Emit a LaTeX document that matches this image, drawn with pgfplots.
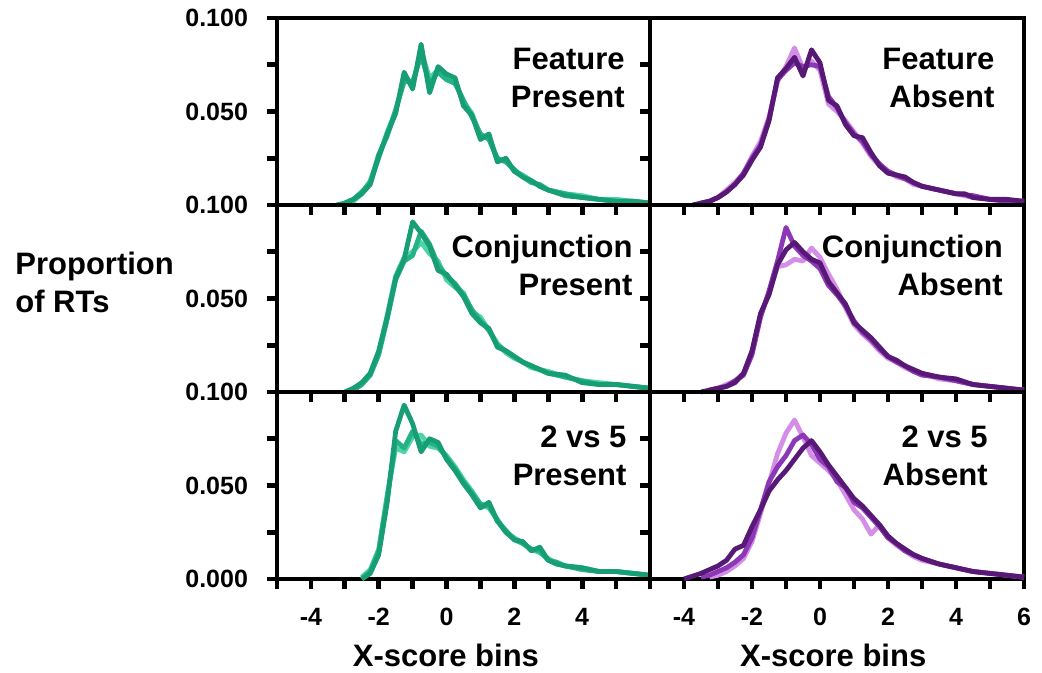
\documentclass[border=0pt]{standalone}
\usepackage{fontspec}
\setmainfont{Liberation Sans}
\usepackage{pgfplots}
\pgfplotsset{compat=1.18}

\definecolor{gdark}{RGB}{24,158,116}
\definecolor{gmid}{RGB}{36,178,134}
\definecolor{glight}{RGB}{78,212,166}
\definecolor{pdark}{RGB}{88,24,118}
\definecolor{pmid}{RGB}{140,56,182}
\definecolor{plight}{RGB}{212,142,232}

\newcommand{\titlefont}{\fontsize{15.5}{19}\selectfont\bfseries}

\tikzset{ptitle/.style={anchor=north east, align=right, font=\titlefont, inner sep=0pt}}

\pgfplotsset{
  panel/.style={
    scale only axis, width=186.5pt, height=93.5pt,
    anchor=north west,
    xmin=-5, xmax=6, ymin=0, ymax=0.1,
    axis line style={line width=2.4pt, line cap=rect},
    tick align=outside, major tick length=5pt,
    every tick/.style={black, line width=2.4pt},
    xtick pos=bottom, ytick pos=left,
    xtick={-5,-4,-3,-2,-1,0,1,2,3,4,5,6}, xticklabels={},
    ytick={0,0.025,0.05,0.075,0.1}, yticklabels={},
    tick label style={font=\fontsize{12.5}{14}\selectfont\bfseries},
    xticklabel shift=6pt,
    yticklabel shift=6pt,
    xlabel style={font=\titlefont},
    every axis plot/.append style={line width=2.4pt, line join=round, no markers},
    clip=false,
  },
}

\begin{document}
\begin{tikzpicture}
\path[use as bounding box] (0,0) rectangle (521pt,-336.5pt);

% ---- row 1 ----
\begin{axis}[panel, at={(138.5pt,-9pt)}, yticklabels={,,0.050,,0.100}]
\addplot[glight] coordinates {(-3.0,0.001) (-2.75,0.002) (-2.5,0.006) (-2.25,0.013) (-2.0,0.025) (-1.75,0.039) (-1.5,0.050) (-1.25,0.068) (-1.0,0.064) (-0.75,0.082) (-0.5,0.068) (-0.25,0.072) (0,0.069) (0.25,0.066) (0.5,0.055) (0.75,0.049) (1.0,0.037) (1.25,0.036) (1.5,0.024) (1.75,0.024) (2.0,0.018) (2.25,0.016) (2.5,0.013) (2.75,0.010) (3.0,0.008) (3.5,0.006) (4.0,0.005) (4.5,0.003) (5.0,0.003) (5.5,0.002) (6.0,0.001)};
\addplot[gmid] coordinates {(-3.0,0.001) (-2.75,0.003) (-2.5,0.007) (-2.25,0.012) (-2.0,0.027) (-1.75,0.037) (-1.5,0.051) (-1.25,0.066) (-1.0,0.066) (-0.75,0.080) (-0.5,0.065) (-0.25,0.071) (0,0.067) (0.25,0.065) (0.5,0.056) (0.75,0.047) (1.0,0.038) (1.25,0.035) (1.5,0.025) (1.75,0.023) (2.0,0.019) (2.25,0.015) (2.5,0.012) (2.75,0.011) (3.0,0.008) (3.5,0.006) (4.0,0.004) (4.5,0.003) (5.0,0.002) (5.5,0.002) (6.0,0.001)};
\addplot[gdark] coordinates {(-3.25,0.000) (-3.0,0.001) (-2.75,0.003) (-2.5,0.006) (-2.25,0.011) (-2.0,0.026) (-1.75,0.038) (-1.5,0.049) (-1.25,0.071) (-1.0,0.062) (-0.75,0.086) (-0.5,0.060) (-0.25,0.074) (0,0.070) (0.25,0.068) (0.5,0.053) (0.75,0.048) (1.0,0.035) (1.25,0.038) (1.5,0.023) (1.75,0.025) (2.0,0.018) (2.25,0.015) (2.5,0.013) (2.75,0.010) (3.0,0.008) (3.5,0.005) (4.0,0.004) (4.5,0.003) (5.0,0.002) (5.5,0.002) (6.0,0.001)};
\node[ptitle] at (rel axis cs:0.933,0.84) {Feature\\Present};
\end{axis}

\begin{axis}[panel, at={(325pt,-9pt)}, width=187pt]
\addplot[plight] coordinates {(-3.5,0.001) (-3.25,0.002) (-3.0,0.004) (-2.75,0.008) (-2.5,0.012) (-2.25,0.017) (-2.0,0.026) (-1.75,0.034) (-1.5,0.047) (-1.25,0.066) (-1.0,0.074) (-0.75,0.084) (-0.5,0.073) (-0.25,0.077) (0,0.072) (0.25,0.054) (0.5,0.050) (0.75,0.045) (1.0,0.039) (1.25,0.033) (1.5,0.026) (1.75,0.021) (2.0,0.018) (2.25,0.015) (2.5,0.014) (2.75,0.011) (3.0,0.010) (3.5,0.008) (4.0,0.006) (4.5,0.004) (5.0,0.003) (5.5,0.002) (6.0,0.002)};
\addplot[pmid] coordinates {(-3.5,0.001) (-3.25,0.002) (-3.0,0.004) (-2.75,0.007) (-2.5,0.011) (-2.25,0.017) (-2.0,0.025) (-1.75,0.032) (-1.5,0.046) (-1.25,0.067) (-1.0,0.072) (-0.75,0.076) (-0.5,0.074) (-0.25,0.075) (0,0.074) (0.25,0.058) (0.5,0.052) (0.75,0.044) (1.0,0.038) (1.25,0.034) (1.5,0.027) (1.75,0.022) (2.0,0.018) (2.25,0.016) (2.5,0.014) (2.75,0.012) (3.0,0.010) (3.5,0.008) (4.0,0.006) (4.5,0.005) (5.0,0.003) (5.5,0.002) (6.0,0.002)};
\addplot[pdark] coordinates {(-3.75,0.000) (-3.5,0.001) (-3.25,0.002) (-3.0,0.004) (-2.75,0.007) (-2.5,0.011) (-2.25,0.016) (-2.0,0.024) (-1.75,0.031) (-1.5,0.045) (-1.25,0.068) (-1.0,0.073) (-0.75,0.079) (-0.5,0.069) (-0.25,0.083) (0,0.076) (0.25,0.056) (0.5,0.053) (0.75,0.043) (1.0,0.037) (1.25,0.036) (1.5,0.028) (1.75,0.021) (2.0,0.017) (2.25,0.016) (2.5,0.015) (2.75,0.012) (3.0,0.010) (3.5,0.008) (4.0,0.006) (4.25,0.006) (4.5,0.004) (5.0,0.003) (5.5,0.003) (6.0,0.002)};
\node[ptitle] at (rel axis cs:0.922,0.84) {Feature\\Absent};
\end{axis}

% ---- row 2 ----
\begin{axis}[panel, at={(138.5pt,-102.5pt)}, yticklabels={,,0.050,,0.100}]
\addplot[glight] coordinates {(-2.75,0.001) (-2.5,0.004) (-2.25,0.010) (-2.0,0.021) (-1.75,0.041) (-1.5,0.062) (-1.25,0.072) (-1.0,0.075) (-0.75,0.080) (-0.5,0.074) (-0.25,0.070) (0,0.060) (0.25,0.056) (0.5,0.053) (0.75,0.043) (1.0,0.040) (1.25,0.033) (1.5,0.026) (1.75,0.021) (2.0,0.018) (2.25,0.016) (2.5,0.013) (2.75,0.012) (3.0,0.011) (3.5,0.008) (4.0,0.006) (4.5,0.005) (5.0,0.004) (5.5,0.003) (6.0,0.002)};
\addplot[gmid] coordinates {(-2.75,0.001) (-2.5,0.004) (-2.25,0.009) (-2.0,0.020) (-1.75,0.039) (-1.5,0.060) (-1.25,0.070) (-1.0,0.073) (-0.75,0.086) (-0.5,0.079) (-0.25,0.068) (0,0.062) (0.25,0.058) (0.5,0.052) (0.75,0.044) (1.0,0.038) (1.25,0.033) (1.5,0.025) (1.75,0.022) (2.0,0.019) (2.25,0.016) (2.5,0.014) (2.75,0.012) (3.0,0.010) (3.5,0.008) (4.0,0.006) (4.5,0.004) (5.0,0.004) (5.5,0.003) (6.0,0.002)};
\addplot[gdark] coordinates {(-3.0,0.000) (-2.75,0.002) (-2.5,0.005) (-2.25,0.010) (-2.0,0.022) (-1.75,0.040) (-1.5,0.061) (-1.25,0.071) (-1.0,0.091) (-0.75,0.085) (-0.5,0.078) (-0.25,0.065) (0,0.063) (0.25,0.057) (0.5,0.051) (0.75,0.042) (1.0,0.037) (1.25,0.034) (1.5,0.024) (1.75,0.022) (2.0,0.019) (2.25,0.016) (2.5,0.014) (2.75,0.012) (3.0,0.010) (3.5,0.009) (4.0,0.005) (4.5,0.004) (5.0,0.004) (5.5,0.003) (6.0,0.002)};
\node[ptitle] at (rel axis cs:0.954,0.84) {Conjunction\\Present};
\node[anchor=west, align=left, font=\titlefont, inner sep=0pt] at (rel axis cs:0,0.5) [xshift=-131pt, yshift=8pt] {Proportion\\of RTs};
\end{axis}

\begin{axis}[panel, at={(325pt,-102.5pt)}, width=187pt]
\addplot[plight] coordinates {(-3.25,0.001) (-3.0,0.002) (-2.75,0.004) (-2.5,0.006) (-2.25,0.010) (-2.0,0.021) (-1.75,0.041) (-1.5,0.053) (-1.25,0.067) (-1.0,0.068) (-0.75,0.071) (-0.5,0.070) (-0.25,0.077) (0,0.072) (0.25,0.063) (0.5,0.055) (0.75,0.045) (1.0,0.036) (1.25,0.031) (1.5,0.027) (1.75,0.022) (2.0,0.018) (2.25,0.016) (2.5,0.013) (2.75,0.011) (3.0,0.010) (3.5,0.007) (4.0,0.006) (4.5,0.004) (5.0,0.003) (5.5,0.002) (6.0,0.001)};
\addplot[pmid] coordinates {(-3.25,0.001) (-3.0,0.002) (-2.75,0.003) (-2.5,0.006) (-2.25,0.009) (-2.0,0.020) (-1.75,0.040) (-1.5,0.054) (-1.25,0.070) (-1.0,0.088) (-0.75,0.078) (-0.5,0.073) (-0.25,0.070) (0,0.066) (0.25,0.057) (0.5,0.052) (0.75,0.046) (1.0,0.038) (1.25,0.032) (1.5,0.028) (1.75,0.023) (2.0,0.019) (2.25,0.016) (2.5,0.014) (2.75,0.011) (3.0,0.009) (3.5,0.008) (4.0,0.006) (4.5,0.004) (5.0,0.003) (5.5,0.002) (6.0,0.001)};
\addplot[pdark] coordinates {(-3.5,0.000) (-3.25,0.001) (-3.0,0.002) (-2.75,0.003) (-2.5,0.005) (-2.25,0.010) (-2.0,0.022) (-1.75,0.042) (-1.5,0.052) (-1.25,0.068) (-1.0,0.076) (-0.75,0.080) (-0.5,0.075) (-0.25,0.071) (0,0.069) (0.25,0.059) (0.5,0.053) (0.75,0.047) (1.0,0.037) (1.25,0.033) (1.5,0.029) (1.75,0.024) (2.0,0.019) (2.25,0.017) (2.5,0.014) (2.75,0.012) (3.0,0.010) (3.5,0.008) (4.0,0.007) (4.5,0.004) (5.0,0.003) (5.5,0.002) (6.0,0.001)};
\node[ptitle] at (rel axis cs:0.944,0.84) {Conjunction\\Absent};
\end{axis}

% ---- row 3 ----
\begin{axis}[panel, at={(138.5pt,-196pt)}, yticklabels={0.000,,0.050,,0.100},
  xticklabels={,-4,,-2,,0,,2,,4,,},
  xlabel={X-score bins}, xlabel style={at={(rel axis cs:0.453,0)}, anchor=center, yshift=-38pt}]
\addplot[glight] coordinates {(-2.5,0.001) (-2.25,0.005) (-2.0,0.016) (-1.75,0.045) (-1.5,0.070) (-1.25,0.068) (-1.0,0.076) (-0.75,0.077) (-0.5,0.071) (-0.25,0.070) (0,0.066) (0.25,0.060) (0.5,0.053) (0.75,0.047) (1.0,0.040) (1.25,0.038) (1.5,0.032) (1.75,0.025) (2.0,0.022) (2.25,0.019) (2.5,0.016) (2.75,0.014) (3.0,0.011) (3.25,0.008) (3.5,0.007) (4.0,0.006) (4.5,0.004) (5.0,0.004) (5.5,0.003) (6.0,0.002)};
\addplot[gmid] coordinates {(-2.5,0.000) (-2.25,0.004) (-2.0,0.015) (-1.75,0.043) (-1.5,0.074) (-1.25,0.070) (-1.0,0.079) (-0.75,0.072) (-0.5,0.073) (-0.25,0.071) (0,0.065) (0.25,0.059) (0.5,0.052) (0.75,0.046) (1.0,0.040) (1.25,0.039) (1.5,0.031) (1.75,0.026) (2.0,0.021) (2.25,0.019) (2.5,0.016) (2.75,0.015) (3.0,0.010) (3.25,0.009) (3.5,0.007) (4.0,0.005) (4.5,0.004) (5.0,0.004) (5.5,0.003) (6.0,0.002)};
\addplot[gdark] coordinates {(-2.5,0.000) (-2.25,0.003) (-2.0,0.013) (-1.75,0.041) (-1.5,0.079) (-1.25,0.093) (-1.0,0.083) (-0.75,0.068) (-0.5,0.075) (-0.25,0.073) (0,0.064) (0.25,0.058) (0.5,0.051) (0.75,0.045) (1.0,0.038) (1.25,0.041) (1.5,0.031) (1.75,0.025) (2.0,0.021) (2.25,0.020) (2.5,0.015) (2.75,0.017) (3.0,0.010) (3.25,0.008) (3.5,0.007) (4.0,0.006) (4.5,0.004) (5.0,0.004) (5.5,0.003) (6.0,0.002)};
\node[ptitle] at (rel axis cs:0.938,0.82) {2 vs 5\\Present};
\end{axis}

\begin{axis}[panel, at={(325pt,-196pt)}, width=187pt,
  xticklabels={,-4,,-2,,0,,2,,4,,6},
  xlabel={X-score bins}, xlabel style={at={(rel axis cs:0.49,0)}, anchor=center, yshift=-38pt}]
\addplot[plight] coordinates {(-3.25,0.001) (-3.0,0.002) (-2.75,0.004) (-2.5,0.007) (-2.25,0.011) (-2.0,0.020) (-1.75,0.035) (-1.5,0.051) (-1.25,0.067) (-1.0,0.078) (-0.75,0.085) (-0.5,0.076) (-0.25,0.066) (0,0.062) (0.25,0.058) (0.5,0.053) (0.75,0.045) (1.0,0.037) (1.25,0.032) (1.5,0.024) (1.75,0.029) (2.0,0.022) (2.25,0.018) (2.5,0.015) (2.75,0.012) (3.0,0.010) (3.5,0.008) (4.0,0.006) (4.5,0.004) (5.0,0.003) (5.5,0.002) (6.0,0.001)};
\addplot[pmid] coordinates {(-3.5,0.001) (-3.25,0.002) (-3.0,0.004) (-2.75,0.006) (-2.5,0.009) (-2.25,0.013) (-2.0,0.022) (-1.75,0.037) (-1.5,0.052) (-1.25,0.060) (-1.0,0.066) (-0.75,0.074) (-0.5,0.077) (-0.25,0.072) (0,0.064) (0.25,0.060) (0.5,0.052) (0.75,0.049) (1.0,0.041) (1.25,0.038) (1.5,0.033) (1.75,0.028) (2.0,0.022) (2.25,0.019) (2.5,0.015) (2.75,0.013) (3.0,0.011) (3.5,0.008) (4.0,0.006) (4.5,0.004) (5.0,0.003) (5.5,0.002) (6.0,0.001)};
\addplot[pdark] coordinates {(-4.0,0.000) (-3.5,0.003) (-3.25,0.005) (-3.0,0.007) (-2.75,0.010) (-2.5,0.016) (-2.25,0.018) (-2.0,0.028) (-1.75,0.037) (-1.5,0.047) (-1.25,0.053) (-1.0,0.058) (-0.75,0.064) (-0.5,0.070) (-0.25,0.074) (0,0.068) (0.25,0.061) (0.5,0.055) (0.75,0.049) (1.0,0.043) (1.25,0.039) (1.5,0.034) (1.75,0.029) (2.0,0.023) (2.25,0.019) (2.5,0.016) (2.75,0.013) (3.0,0.011) (3.5,0.008) (4.0,0.006) (4.5,0.004) (5.0,0.003) (5.5,0.002) (6.0,0.001)};
\node[ptitle] at (rel axis cs:0.904,0.82) {2 vs 5\\Absent};
\end{axis}
\end{tikzpicture}
\end{document}
